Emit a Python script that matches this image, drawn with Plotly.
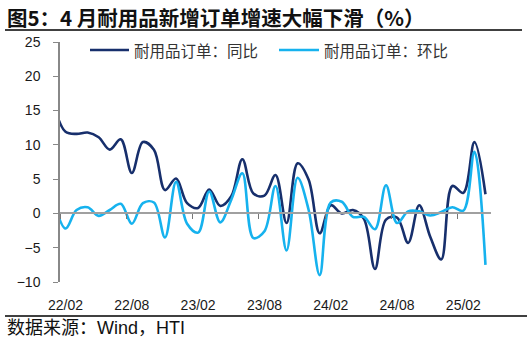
import plotly.graph_objects as go

# ---------------- data ----------------
months = ["22/01", "22/02", "22/03", "22/04", "22/05", "22/06", "22/07", "22/08", "22/09", "22/10",
          "22/11", "22/12", "23/01", "23/02", "23/03", "23/04", "23/05", "23/06", "23/07", "23/08",
          "23/09", "23/10", "23/11", "23/12", "24/01", "24/02", "24/03", "24/04", "24/05", "24/06",
          "24/07", "24/08", "24/09", "24/10", "24/11", "24/12", "25/01", "25/02", "25/03", "25/04"]

yoy = [15.5, 11.9, 11.6, 11.8, 11.1, 9.3, 10.8, 5.9, 10.4, 9.3,
       3.4, 5.1, 1.5, 0.8, 3.5, 1.1, 2.5, 7.9, 2.9, 2.6,
       5.6, -1.4, 7.3, 4.9, -2.9, 1.2, 0.0, 0.5, -0.8, -8.1,
       -0.9, -0.6, -4.3, 1.2, -3.4, -6.7, 4.0, 3.0, 10.4, 2.8]

mom = [1.5, -2.2, 0.5, 0.9, -0.35, 0.5, 1.4, -1.5, 1.5, 1.6,
       -3.5, 4.6, -1.5, -2.8, 3.2, -1.3, 2.0, 5.85, -3.6, -2.6,
       4.0, -5.4, 5.2, 0.5, -9.0, 1.6, 1.7, -0.5, -0.5, -2.3,
       4.1, -1.4, 0.3, 0.3, -0.3, 0.2, 0.9, 0.4, 9.0, -7.5]

tick_labels = ["22/02", "22/08", "23/02", "23/08", "24/02", "24/08", "25/02"]

series_names = ["耐用品订单：同比", "耐用品订单：环比"]
title_text = "图5：4 月耐用品新增订单增速大幅下滑（%）"
source_text = "数据来源：Wind，HTI"

# ---------------- styling ----------------
DARK = "#172F6C"
LIGHT = "#16B2EE"
GRAY = "#A0A0A0"
W, H = 532, 342
ML, MR, MT, MB = 60, 41, 42, 60
YMIN, YMAX = -10, 25

xs = [i - 1 for i in range(len(months))]  # 22/02 -> 0
label_pos = [xs[months.index(m)] for m in tick_labels]
tick_pos = [p - 0.5 for p in label_pos]

pw, ph = W - ML - MR, H - MT - MB
def px(x):  # pixel -> paper
    return (x - ML) / pw
def py(y):
    return (H - MB - y) / ph

fig = go.Figure()
fig.add_trace(go.Scatter(x=xs, y=yoy, mode="lines", name=series_names[0],
                         line=dict(color=DARK, width=2.6, shape="spline", smoothing=1.0),
                         cliponaxis=True))
fig.add_trace(go.Scatter(x=xs, y=mom, mode="lines", name=series_names[1],
                         line=dict(color=LIGHT, width=2.6, shape="spline", smoothing=1.0),
                         cliponaxis=True))
# invisible trace to activate the zero-line axis
fig.add_trace(go.Scatter(x=[xs[0]], y=[0], xaxis="x2", mode="lines",
                         line=dict(width=0), hoverinfo="skip", showlegend=False))

tickfont = dict(family="Liberation Sans, Arial", size=14, color="#1a1a1a")

fig.update_layout(
    width=W, height=H,
    margin=dict(l=ML, r=MR, t=MT, b=MB),
    paper_bgcolor="white", plot_bgcolor="white",
    showlegend=False,
    xaxis=dict(range=[-0.5, 38.5], tickvals=label_pos, ticktext=tick_labels,
               showline=False, showgrid=False, zeroline=False,
               ticks="outside", ticklen=10, tickcolor="rgba(0,0,0,0)",
               tickfont=tickfont),
    xaxis2=dict(range=[-0.5, 38.5], overlaying="x", anchor="free",
                position=(0 - YMIN) / (YMAX - YMIN), side="bottom",
                showline=True, linecolor=GRAY, linewidth=2,
                tickvals=tick_pos, ticks="outside", ticklen=5, tickwidth=1,
                tickcolor="#777", showticklabels=False, showgrid=False, zeroline=False),
    yaxis=dict(range=[YMIN, YMAX], dtick=5, tick0=0,
               showline=True, linecolor="#888", linewidth=1.5,
               ticks="outside", ticklen=5, tickcolor="#888",
               showgrid=False, zeroline=False,
               ticklabelstandoff=10, tickfont=tickfont),
)

shapes = [
    dict(type="line", xref="paper", yref="paper", x0=px(5), x1=px(522), y0=py(30), y1=py(30),
         line=dict(color="black", width=1.5)),
    dict(type="line", xref="paper", yref="paper", x0=px(5), x1=px(527), y0=py(316), y1=py(316),
         line=dict(color="black", width=1.5)),
    dict(type="line", xref="paper", yref="paper", x0=px(90), x1=px(129), y0=py(50), y1=py(50),
         line=dict(color=DARK, width=2.6)),
    dict(type="line", xref="paper", yref="paper", x0=px(279), x1=px(319), y0=py(50), y1=py(50),
         line=dict(color=LIGHT, width=2.6)),
]
fig.update_layout(shapes=shapes)

cjk = "Noto Sans CJK SC"
annotations = [
    dict(text="<b>" + title_text + "</b>", xref="paper", yref="paper", x=px(5), y=py(17),
         xanchor="left", yanchor="middle", showarrow=False,
         font=dict(family=cjk, size=20.5, color="#111")),
    dict(text=series_names[0], xref="paper", yref="paper", x=px(132), y=py(50),
         xanchor="left", yanchor="middle", showarrow=False,
         font=dict(family=cjk, size=15.5, color="#333")),
    dict(text=series_names[1], xref="paper", yref="paper", x=px(322), y=py(50),
         xanchor="left", yanchor="middle", showarrow=False,
         font=dict(family=cjk, size=15.5, color="#333")),
    dict(text=source_text, xref="paper", yref="paper", x=px(5), y=py(328),
         xanchor="left", yanchor="middle", showarrow=False,
         font=dict(family="Liberation Sans, " + cjk, size=18, color="#111")),
]
fig.update_layout(annotations=annotations)

fig.write_html("out.html")
